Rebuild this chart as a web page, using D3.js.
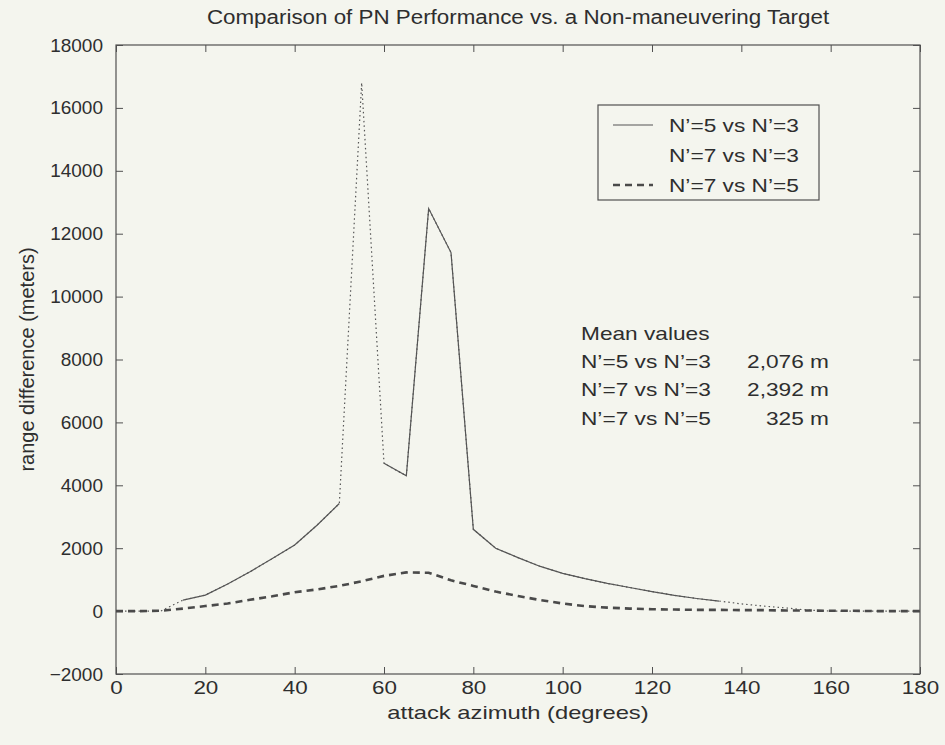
<!DOCTYPE html>
<html>
<head>
<meta charset="utf-8">
<script src="https://cdn.jsdelivr.net/npm/d3@7"></script>
<style>
  html, body { margin: 0; padding: 0; background: #f4f5ee; }
  svg { display: block; }
  text { font-family: "Liberation Sans", Arial, sans-serif; fill: #2e2e2e; }
</style>
</head>
<body>
<svg id="chart" width="945" height="745"></svg>
<script>
// ---- data ----
const azimuth = [0,5,10,15,20,25,30,35,40,45,50,55,60,65,70,75,80,85,90,95,100,105,110,115,120,125,130,135,140,145,150,155,160,165,170,175,180];
const n5v3 = [null,null,null,350,510,860,1250,1670,2100,2730,3420,null,4700,4300,12800,11400,2600,2000,1700,1420,1200,1030,880,750,620,500,400,320,null,null,null,null,null,null,null,null,null];
const n7v3 = [0,0,0,350,510,860,1250,1670,2100,2730,3420,16800,4700,4300,12800,11400,2600,2000,1700,1420,1200,1030,880,750,620,500,400,320,230,160,100,30,0,0,0,0,0];
const n7v5 = [0,0,10,80,160,240,360,470,600,690,800,950,1120,1230,1220,980,800,620,480,350,240,160,110,80,60,50,40,40,30,30,20,20,10,10,0,0,0];
const seriesNames = ["N\u2019=5 vs N\u2019=3", "N\u2019=7 vs N\u2019=3", "N\u2019=7 vs N\u2019=5"];
const meanValues = ["2,076 m", "2,392 m", "325 m"];
const xTicks = [0,20,40,60,80,100,120,140,160,180];
const yTicks = [-2000,0,2000,4000,6000,8000,10000,12000,14000,16000,18000];
const titleText = "Comparison of PN Performance vs. a Non-maneuvering Target";
const xLabel = "attack azimuth (degrees)";
const yLabel = "range difference (meters)";

// ---- layout ----
const svg = d3.select("#chart");
const L = 116, R = 920, T = 45, B = 674;
const x = d3.scaleLinear().domain([0,180]).range([L,R]);
const y = d3.scaleLinear().domain([-2000,18000]).range([B,T]);
const ink = "#505050";
const txt = "#2e2e2e";
const ff = "Liberation Sans, Arial, sans-serif";

// helper: horizontally widened text anchored at (px,py)
function wideText(parent, px, py, str, size, sx, anchor) {
  return parent.append("text")
    .attr("transform", `translate(${px},${py}) scale(${sx},1)`)
    .attr("text-anchor", anchor || "start")
    .attr("font-size", size).text(str);
}

// box
svg.append("rect").attr("x",L).attr("y",T).attr("width",R-L).attr("height",B-T)
  .attr("fill","none").attr("stroke",ink).attr("stroke-width",1.2);

// axes with inward ticks
const tl = 7;
svg.append("g").attr("transform",`translate(0,${B})`)
  .call(d3.axisBottom(x).tickValues(xTicks).tickSizeInner(-tl).tickSizeOuter(0).tickPadding(7))
  .call(g => { g.select(".domain").remove(); g.selectAll("line").attr("stroke",ink);
    g.selectAll("text").attr("font-size",19).attr("fill",txt).attr("font-family",ff)
      .attr("transform","scale(1.18,1)"); });
svg.append("g").attr("transform",`translate(0,${T})`)
  .call(d3.axisTop(x).tickValues(xTicks).tickSizeInner(-tl).tickSizeOuter(0).tickFormat(""))
  .call(g => { g.select(".domain").remove(); g.selectAll("line").attr("stroke",ink); });
svg.append("g").attr("transform",`translate(${L},0)`)
  .call(d3.axisLeft(y).tickValues(yTicks).tickSizeInner(-tl).tickSizeOuter(0).tickPadding(tl+6).tickFormat(d3.format("d")))
  .call(g => { g.select(".domain").remove(); g.selectAll("line").attr("stroke",ink);
    g.selectAll("text").attr("font-size",19).attr("fill",txt).attr("font-family",ff); });
svg.append("g").attr("transform",`translate(${R},0)`)
  .call(d3.axisRight(y).tickValues(yTicks).tickSizeInner(-tl).tickSizeOuter(0).tickFormat(""))
  .call(g => { g.select(".domain").remove(); g.selectAll("line").attr("stroke",ink); });

// lines
const mk = vals => d3.line().defined((d,i) => vals[i] !== null).x((d,i) => x(azimuth[i])).y((d,i) => y(vals[i]));
const plot = svg.append("g");
plot.append("path").datum(n7v3).attr("d", mk(n7v3)(n7v3)).attr("fill","none")
  .attr("stroke","#555").attr("stroke-width",1.2).attr("stroke-dasharray","1.5,3");
plot.append("path").datum(n5v3).attr("d", mk(n5v3)(n5v3)).attr("fill","none")
  .attr("stroke","#555").attr("stroke-width",1.2);
plot.append("path").datum(n7v5).attr("d", mk(n7v5)(n7v5)).attr("fill","none")
  .attr("stroke","#4a4a4a").attr("stroke-width",2.6).attr("stroke-dasharray","7,5");

// title & labels
wideText(svg, (L+R)/2, 24, titleText, 21, 1.065, "middle");
wideText(svg, (L+R)/2, 719, xLabel, 19, 1.25, "middle");
svg.append("text").attr("transform",`translate(34,${(T+B)/2}) rotate(-90)`).attr("text-anchor","middle").attr("font-size",20).text(yLabel);

// legend
const lg = svg.append("g");
lg.append("rect").attr("x",598).attr("y",105).attr("width",221).attr("height",95)
  .attr("fill","#f4f5ee").attr("stroke",ink).attr("stroke-width",1.2);
const legStyles = [
  {w:1.2, dash:null, c:"#555"},
  {w:1.2, dash:"1.5,3", c:"#f4f5ee"},
  {w:2.6, dash:"7,5", c:"#4a4a4a"}
];
seriesNames.forEach((nm,i) => {
  const yy = 125 + i*30;
  const ln = lg.append("line").attr("x1",613).attr("x2",653).attr("y1",yy).attr("y2",yy)
    .attr("stroke",legStyles[i].c).attr("stroke-width",legStyles[i].w);
  if (legStyles[i].dash) ln.attr("stroke-dasharray",legStyles[i].dash);
  wideText(lg, 669, yy+6.5, nm, 18, 1.26, "start");
});

// mean values annotation
const mg = svg.append("g");
wideText(mg, 581, 340, "Mean values", 18, 1.26, "start");
seriesNames.forEach((nm,i) => {
  const yy = 368 + i*28.3;
  wideText(mg, 581, yy, nm, 18, 1.26, "start");
  wideText(mg, 829, yy, meanValues[i], 18, 1.26, "end");
});
</script>
</body>
</html>
